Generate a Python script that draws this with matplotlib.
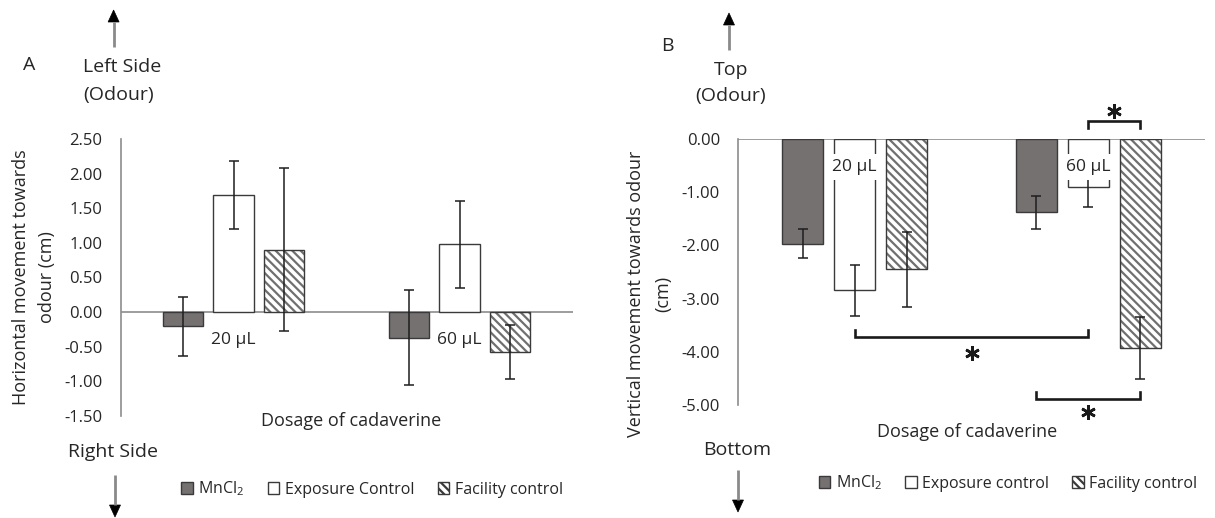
import matplotlib
matplotlib.use("Agg")
import matplotlib.pyplot as plt
from matplotlib.patches import Patch, Polygon
import numpy as np

plt.rcParams['font.family'] = ['Open Sans', 'DejaVu Sans']
plt.rcParams['mathtext.fontset'] = 'custom'
plt.rcParams['mathtext.rm'] = 'Open Sans'
plt.rcParams['mathtext.it'] = 'Open Sans:italic'
plt.rcParams['hatch.linewidth'] = 1.6

# ---- data -------------------------------------------------------------
categories = ['20 μL', '60 μL']
series_names = ['MnCl$_2$', 'Exposure Control', 'Facility control']
series_names_b = ['MnCl$_2$', 'Exposure control', 'Facility control']

# Panel A: horizontal movement towards odour (cm)
horiz_mncl2 = [-0.21, -0.37]
horiz_exposure = [1.69, 0.98]
horiz_facility = [0.90, -0.58]
horiz_mncl2_err = [0.43, 0.68]
horiz_exposure_err = [0.49, 0.63]
horiz_facility_err = [1.18, 0.39]

# Panel B: vertical movement towards odour (cm)
vert_mncl2 = [-1.97, -1.38]
vert_exposure = [-2.84, -0.91]
vert_facility = [-2.45, -3.93]
vert_mncl2_err = [0.27, 0.31]
vert_exposure_err = [0.48, 0.36]
vert_facility_err = [0.71, 0.59]

yticks_a = [-1.5, -1.0, -0.5, 0.0, 0.5, 1.0, 1.5, 2.0, 2.5]
yticks_b = [-5.0, -4.0, -3.0, -2.0, -1.0, 0.0]

# ---- style -----------------------------------------------------------
W, H = 1215, 518
TXT = '#262626'
AXC = '#8c8c8c'
EDGE = '#3a3a3a'
DARK = '#767171'
HATCHC = '#707070'
BAR_W = 0.177
OFFS = 0.223

fig = plt.figure(figsize=(W / 100, H / 100), dpi=100)

# overlay in pixel coordinates for free annotations
ov = fig.add_axes([0, 0, 1, 1])
ov.set_xlim(0, W)
ov.set_ylim(H, 0)
ov.axis('off')


def px_axes(left, top, right, bottom):
    return fig.add_axes([left / W, 1 - bottom / H, (right - left) / W, (bottom - top) / H])


def draw_panel(ax, groups, errs, ylim, yticks):
    x = np.arange(len(categories))
    ax.set_xlim(-0.5, len(categories) - 0.5)
    ax.set_ylim(*ylim)
    for j, (vals, err) in enumerate(zip(groups, errs)):
        xs = x + (j - 1) * OFFS
        if j == 0:
            ax.bar(xs, vals, BAR_W, color=DARK, edgecolor=EDGE, linewidth=1.0, zorder=2)
        elif j == 1:
            ax.bar(xs, vals, BAR_W, color='white', edgecolor=EDGE, linewidth=1.0, zorder=2)
        else:
            ax.bar(xs, vals, BAR_W, color='white', edgecolor=HATCHC, hatch='\\\\\\\\',
                   linewidth=0, zorder=2)
            ax.bar(xs, vals, BAR_W, color='none', edgecolor=EDGE, linewidth=1.0, zorder=2.1)
        ax.errorbar(xs, vals, yerr=err, fmt='none', ecolor='#1e1e1e', elinewidth=1.1,
                    capsize=3.3, capthick=1.1, zorder=3)
    ax.axhline(0, color=AXC, lw=1.2, zorder=1.5)
    for s in ['top', 'right', 'bottom']:
        ax.spines[s].set_visible(False)
    ax.spines['left'].set_color(AXC)
    ax.spines['left'].set_linewidth(1.2)
    ax.set_xticks([])
    ax.set_yticks(yticks)
    ax.set_yticklabels([f'{v:.2f}' for v in yticks])
    ax.tick_params(axis='y', length=0, pad=13, labelsize=12, labelcolor=TXT)
    ax.patch.set_alpha(0)
    return x


# ---- Panel A ------------------------------------------------------------
axA = px_axes(120.5, 139, 572.5, 415.7)
xa = draw_panel(axA, [horiz_mncl2, horiz_exposure, horiz_facility],
                [horiz_mncl2_err, horiz_exposure_err, horiz_facility_err],
                (-1.5, 2.5), yticks_a)
for xi, lab in zip(xa, categories):
    axA.text(xi, -0.40, lab, ha='center', va='center', fontsize=12.5, color=TXT, zorder=5)

# ---- Panel B ------------------------------------------------------------
axB = px_axes(738, 139, 1205, 405)
xb = draw_panel(axB, [vert_mncl2, vert_exposure, vert_facility],
                [vert_mncl2_err, vert_exposure_err, vert_facility_err],
                (-5.0, 0.0), yticks_b)
for xi, lab in zip(xb, categories):
    axB.text(xi, -0.53, lab, ha='center', va='center', fontsize=12.5, color=TXT, zorder=5,
             bbox=dict(boxstyle='square,pad=0.3', fc='white', ec='none'))


def bracket(ax, x0, x1, y, tip, star_y):
    ax.plot([x0, x0, x1, x1], [tip, y, y, tip], color='#1a1a1a', lw=1.9,
            clip_on=False, zorder=4, solid_joinstyle='miter')
    ax.plot([(x0 + x1) / 2], [star_y], marker=(6, 2, 0), ms=10.5, mew=1.9,
            color='#1a1a1a', clip_on=False, zorder=4)


bracket(axB, xb[1], xb[1] + OFFS, 0.34, 0.21, 0.52)
bracket(axB, xb[0], xb[1], -3.73, -3.59, -4.03)
bracket(axB, xb[1] - OFFS, xb[1] + OFFS, -4.89, -4.75, -5.13)

# ---- free text & arrows ---------------------------------------------------
ov.text(29.5, 65, 'A', ha='center', va='center', fontsize=14, color=TXT)
ov.text(83, 67, 'Left Side', ha='left', va='center', fontsize=14, color=TXT)
ov.text(83, 95, '(Odour)', ha='left', va='center', fontsize=14, color=TXT)
ov.text(68, 452, 'Right Side', ha='left', va='center', fontsize=14, color=TXT)
ov.text(351, 421, 'Dosage of cadaverine', ha='center', va='center', fontsize=13, color=TXT)
ov.text(21, 277, 'Horizontal movement towards', ha='center', va='center', rotation=90,
        fontsize=13, color=TXT)
ov.text(47, 277, 'odour (cm)', ha='center', va='center', rotation=90, fontsize=13, color=TXT)

ov.text(667, 46, 'B', ha='center', va='center', fontsize=14, color=TXT)
ov.text(731, 70, 'Top', ha='center', va='center', fontsize=14, color=TXT)
ov.text(731, 96, '(Odour)', ha='center', va='center', fontsize=14, color=TXT)
ov.text(737, 450, 'Bottom', ha='center', va='center', fontsize=14, color=TXT)
ov.text(967, 432, 'Dosage of cadaverine', ha='center', va='center', fontsize=13, color=TXT)
ov.text(636, 294, 'Vertical movement towards odour', ha='center', va='center', rotation=90,
        fontsize=13, color=TXT)
ov.text(663, 294, '(cm)', ha='center', va='center', rotation=90, fontsize=13, color=TXT)


def arrow(x, y_tail, y_tip):
    d = 1 if y_tip > y_tail else -1
    base = y_tip - d * 12
    ov.plot([x, x], [y_tail, base], color='#8a8a8a', lw=2.0, solid_capstyle='butt')
    ov.add_patch(Polygon([[x - 5.5, base], [x + 5.5, base], [x, y_tip]], closed=True,
                         fc='black', ec='black', lw=0.5))


arrow(113.6, 47, 10)
arrow(115, 475, 517)
arrow(729, 50, 13)
arrow(738, 470, 512)

# ---- legends -----------------------------------------------------------
def handles(names):
    return [Patch(fc=DARK, ec=EDGE, lw=1.0, label=names[0]),
            Patch(fc='white', ec=EDGE, lw=1.0, label=names[1]),
            Patch(fc='white', ec=EDGE, lw=1.0, hatch='\\\\\\\\', label=names[2])]


leg_kw = dict(ncol=3, frameon=False, fontsize=11.5, handlelength=0.72, handleheight=0.72,
              handletextpad=0.35, columnspacing=1.45, borderpad=0, labelcolor=TXT)
fig.legend(handles=handles(series_names), loc='center',
           bbox_to_anchor=(372 / W, 1 - 489 / H), **leg_kw)
fig.legend(handles=handles(series_names_b), loc='center',
           bbox_to_anchor=(1008 / W, 1 - 483 / H), **leg_kw)

fig.savefig('out.png', dpi=100, facecolor='white')
